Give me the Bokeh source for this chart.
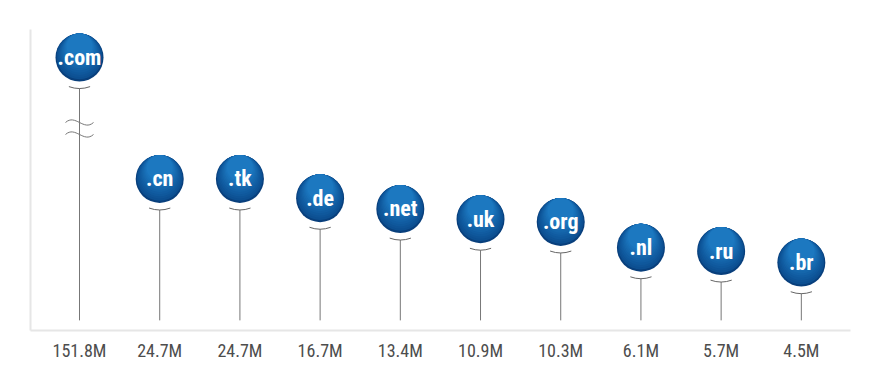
import numpy as np
from bokeh.plotting import figure
from bokeh.models import Range1d, FixedTicker, ColumnDataSource
from bokeh.embed import file_html
from bokeh.resources import INLINE
from bokeh.core.properties import value

# ---- data ----
domains = [".com", ".cn", ".tk", ".de", ".net", ".uk", ".org", ".nl", ".ru", ".br"]
counts_m = [151.8, 24.7, 24.7, 16.7, 13.4, 10.9, 10.3, 6.1, 5.7, 4.5]
tick_labels = ["151.8M", "24.7M", "24.7M", "16.7M", "13.4M", "10.9M", "10.3M", "6.1M", "5.7M", "4.5M"]

# broken log axis: values above BREAK_AT are shifted up by BREAK_GAP (log units)
BREAK_AT = 61.0
BREAK_GAP = 0.655
STEM_BASE = 1.39

FONT = "Roboto Condensed, Arial Narrow, DejaVu Sans Condensed, sans-serif"

def disp(v):
    v = np.asarray(v, dtype=float)
    return np.where(v >= BREAK_AT, np.log(v) + BREAK_GAP, np.log(v))

xs = np.arange(len(domains))
ys = disp(counts_m)

W, H = 872, 372
BL, BR, BT, BB = 30, 22, 29, 42
X0, X1 = -0.611, 9.613
Y0, Y1 = 0.123, 6.247
PX_X = (W - BL - BR) / (X1 - X0)
PX_Y = (H - BT - BB) / (Y1 - Y0)

p = figure(width=W, height=H, output_backend="svg", toolbar_location=None,
           x_range=Range1d(X0, X1), y_range=Range1d(Y0, Y1),
           min_border_left=BL, min_border_right=BR, min_border_top=BT, min_border_bottom=BB)
p.outline_line_color = None
p.grid.visible = False
p.background_fill_color = "white"
p.border_fill_color = "white"

# axes
for ax in (p.xaxis[0], p.yaxis[0]):
    ax.axis_line_color = "#e6e6e6"
    ax.axis_line_width = 2
    ax.major_tick_out = 0
    ax.major_tick_in = 0
    ax.minor_tick_out = 0
    ax.minor_tick_in = 0
p.yaxis.ticker = FixedTicker(ticks=[])
p.yaxis.major_label_standoff = 0
p.yaxis.major_label_text_font_size = "0px"
p.xaxis.ticker = FixedTicker(ticks=list(xs))
p.xaxis.major_label_overrides = {int(i): t for i, t in zip(xs, tick_labels)}
p.xaxis.major_label_text_font = FONT
p.xaxis.major_label_text_font_size = "18px"
p.xaxis.major_label_text_color = "#4d4d4d"
p.xaxis.major_label_standoff = 9

src = ColumnDataSource(dict(x=xs, y=ys, base=np.full(len(xs), disp([STEM_BASE])[0]),
                            name=domains))

# stems
p.segment(x0="x", y0="y", x1="x", y1="base", source=src, line_color="#777777", line_width=1)

# axis break marks on the .com stem
i_big = int(np.argmax(counts_m))
yb = float(np.log(BREAK_AT))
for off in (0.0, 12.0 / PX_Y):
    yc = yb + off
    xc = float(xs[i_big])
    p.bezier(x0=[xc - 14 / PX_X], y0=[yc], x1=[xc + 14 / PX_X], y1=[yc],
             cx0=[xc - 4 / PX_X], cy0=[yc + 9 / PX_Y], cx1=[xc + 4 / PX_X], cy1=[yc - 9 / PX_Y],
             line_color="#777777", line_width=1)

# white halo covering the stem top
p.scatter("x", "y", source=src, size=62, fill_color="white", line_color=None)
# small shadow arc
p.arc("x", "y", source=src, radius=31, radius_units="screen",
      start_angle=np.deg2rad(250), end_angle=np.deg2rad(290),
      line_color="#666666", line_width=1)

# gradient bubble
c_dark = np.array([0x0a, 0x4a, 0x8c])
c_light = np.array([0x1c, 0x78, 0xc0])
p.scatter("x", "y", source=src, size=48, fill_color="#083f7c", line_color=None)
N = 10
for k in range(1, N + 1):
    t = k / N
    col = tuple(int(round(c)) for c in c_dark + (c_light - c_dark) * t)
    shift = 1.1 * k
    p.scatter(x=xs, y=ys + shift / PX_Y, size=48 - 2 * shift,
              fill_color="#%02x%02x%02x" % col, line_color=None)

p.text("x", "y", text="name", source=src, text_color="white", text_align="center",
       text_baseline="middle", text_font=value(FONT),
       text_font_style="bold", text_font_size="22px")

open("out.html", "w").write(file_html(p, INLINE))
